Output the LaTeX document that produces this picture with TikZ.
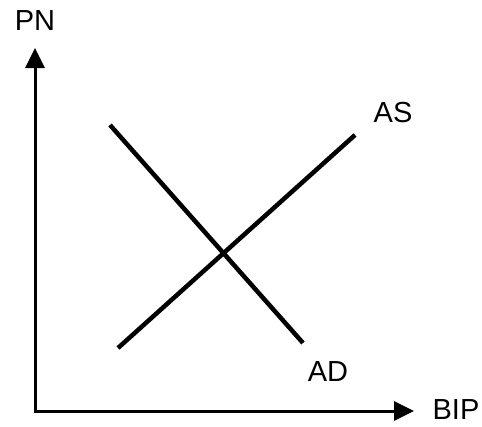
\documentclass[tikz,border=0pt]{standalone}
\usepackage{fontspec}
\setmainfont{Liberation Sans}
\usetikzlibrary{arrows.meta}
\begin{document}
\begin{tikzpicture}[x=1pt,y=-1pt,
  axis/.style={line width=3pt,-{Triangle[length=20pt,width=19pt]}},
  curve/.style={line width=4.5pt},
  lbl/.style={font=\fontsize{29}{30}\selectfont,inner sep=0pt}]
\useasboundingbox (0,0) rectangle (482,426);
\coordinate (O) at (35,411);
\coordinate (Ytip) at (35,48);
\coordinate (Xtip) at (414,411);
\draw[axis] ([yshift=1.5pt]O) -- (Ytip);
\draw[axis] ([xshift=-1.5pt]O) -- (Xtip);
\coordinate (as1) at (118,348);
\coordinate (as2) at (355,135);
\coordinate (ad1) at (110,125);
\coordinate (ad2) at (303,343);
\draw[curve] (as1) -- (as2);
\draw[curve] (ad1) -- (ad2);
\node[lbl] (pn) at (35,21) {PN};
\node[lbl] (bip) at (456,410) {BIP};
\node[lbl] (as) at (393,113) {AS};
\node[lbl] (ad) at (328,372) {AD};
\end{tikzpicture}
\end{document}
